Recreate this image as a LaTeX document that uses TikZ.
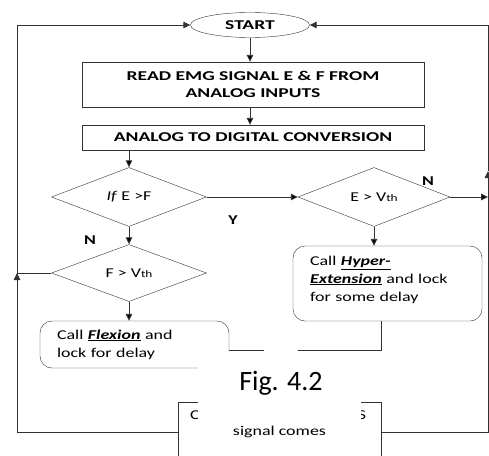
\documentclass[tikz,border=0pt]{standalone}
\usepackage{fontspec}
\setmainfont{Carlito}[FakeStretch=1.33]
\newfontfamily\capsfont{Carlito}[FakeStretch=1.45]
\newfontfamily\figfont{Carlito}
\usepackage{tikz}
\usetikzlibrary{shapes.geometric,arrows.meta}
\definecolor{flowline}{RGB}{50,50,50}

\begin{document}
\begin{tikzpicture}[x=1pt,y=-1pt,
	font=\fontsize{13.5}{17}\selectfont,
	term/.style={draw=flowline,ellipse,minimum width=119pt,minimum height=25pt,inner sep=0pt,font=\capsfont\fontsize{13.5}{17}\selectfont\bfseries},
	proc/.style={draw=flowline,rectangle,minimum width=342pt,inner sep=0pt,align=center,font=\capsfont\fontsize{13.5}{17}\selectfont\bfseries},
	decide/.style={draw=flowline,diamond,minimum width=155pt,minimum height=59pt,inner sep=0pt},
	lockbox/.style={draw=flowline,rectangle,rounded corners=12pt,inner xsep=17pt,inner ysep=0pt,text width=155pt,align=left,font=\fontsize{13.5}{18}\selectfont},
	lbl/.style={font=\fontsize{13.5}{17}\selectfont\bfseries},
	flow/.style={draw=flowline,line width=0.9pt},
	flowtip/.style={-{Stealth[length=7pt,width=6.5pt,inset=0pt]}}]
\useasboundingbox (0,0) rectangle (489,455);
\node[term] (start) at (250,25) {START};
\node[proc,minimum height=45pt] (read) at (253,84.5) {READ EMG SIGNAL E \& F FROM\\ANALOG INPUTS};
\node[proc,minimum height=25pt] (adc) at (253,137.5) {ANALOG TO DIGITAL CONVERSION};
\node[decide] (ifef) at (129,197) {\textit{If} E >F};
\node[decide,minimum width=152pt] (evth) at (374,197) {E > V{\fontsize{10}{10}\selectfont th}};
\node[decide,minimum height=57pt] (fvth) at (129,273) {F > V{\fontsize{10}{10}\selectfont th}};
\node[lockbox,minimum height=75pt] (hyper) at (387.5,283.5) {Call \underline{\textbf{\textit{Hyper-}}}\\\underline{\textbf{\textit{Extension}}} and lock\\for some delay\\[-8pt]\mbox{}};
\node[lockbox,minimum height=47pt] (flex) at (134.5,344.5) {Call \underline{\textbf{\textit{Flexion}}} and\\lock for delay};
\node[draw=flowline,rectangle,minimum width=203pt,minimum height=60pt] (wait) at (279.5,432) {signal comes};
\node (waitc) at (195,415) {C};
\node (waits) at (362,415) {S};
\node[lbl] (yes) at (233,220) {Y};
\node[lbl] (noleft) at (90,240) {N};
\node[lbl] (noright) at (428,181) {N};
% joints of the loops
\coordinate (ljoin) at (17,273);
\coordinate (rjoin) at (488,171);
\coordinate (fj) at (263,350);
\coordinate (hj) at (298,350);
\coordinate (hd) at (381,350);
\path[flow,flowtip]
(start.south) edge (start.south |- read.north)
(read.south -| start) edge (adc.north -| start)
(adc.south -| ifef) edge (ifef.north)
(ifef.east) edge (evth.west)
(evth.east) edge (evth.east -| rjoin)
(evth.south) edge (hyper.north -| evth)
(ifef.south) edge (fvth.north)
(fvth.south) edge (flex.north -| fvth)
(fj) edge (fj |- wait.north)
(hj) edge (hj |- wait.north);
\draw[flow] (fvth.west) -- (ljoin);
\draw[flow,flowtip] (wait.west) -| (ljoin);
\draw[flow,flowtip] (ljoin) |- (start.west);
\draw[flow,flowtip] (wait.east) -| (rjoin);
\draw[flow,flowtip] (rjoin) |- (start.east);
\draw[flow] (flex.east |- fj) -- (fj);
\draw[flow] (hyper.south -| hd) -- (hd) -- (hj);
% caption patch
\fill[white] (198,351) rectangle (361,422);
\node[font=\figfont\fontsize{28}{30}\selectfont] (fig) at (281,383) {Fig. 4.2};
\end{tikzpicture}
\end{document}
